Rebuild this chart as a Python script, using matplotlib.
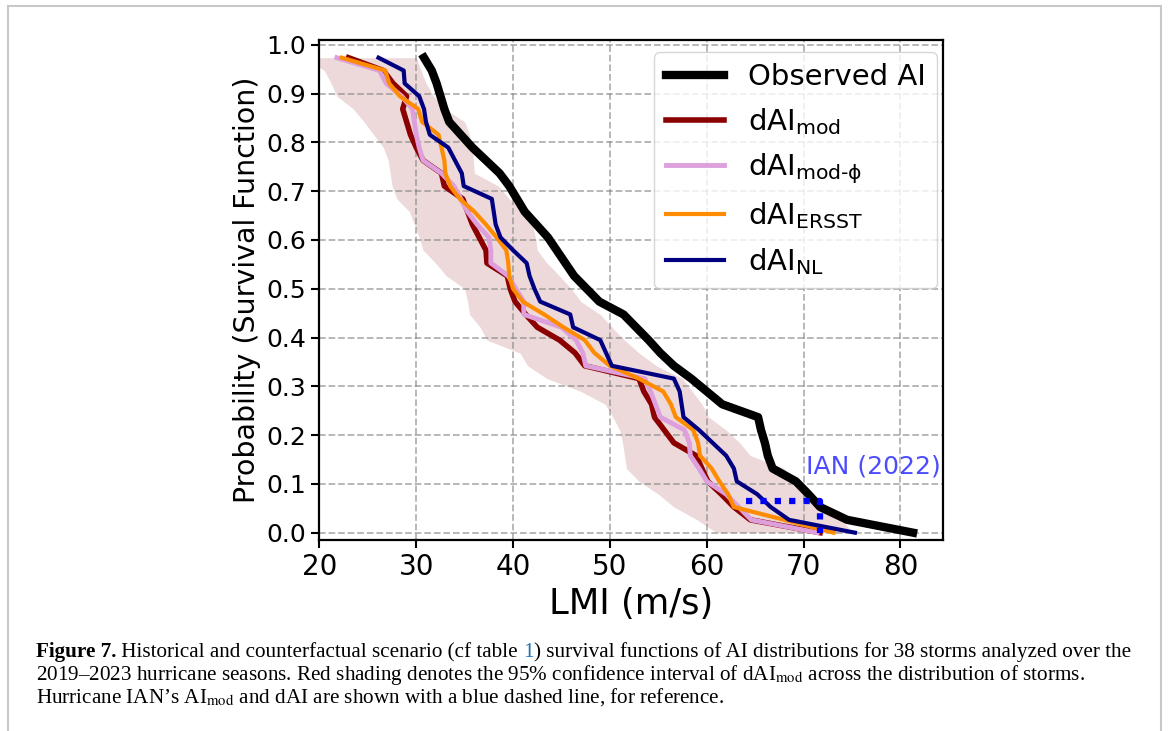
import numpy as np
import matplotlib
matplotlib.use("Agg")
import matplotlib.pyplot as plt
from matplotlib.patches import Rectangle

# 38 tempetes -> probabilites de survie k/38 (de 37/38 a 0)
n_storms = 38
prob = np.arange(n_storms - 1, -1, -1) / n_storms

obs_ai = [30.8, 31.6, 32.1, 32.5, 32.9, 33.4, 34.6, 35.8, 37.2, 38.6,
          39.6, 40.4, 41.2, 42.4, 43.6, 44.5, 45.4, 46.3, 47.6, 48.9,
          51.4, 52.7, 54.0, 55.2, 56.6, 58.4, 60.0, 61.6, 65.3, 65.6,
          66.0, 66.3, 66.8, 69.2, 70.5, 71.7, 74.5, 81.3]
dai_mod = [23.0, 26.6, 27.6, 29.0, 28.6, 29.0, 29.4, 30.0, 30.7, 32.6,
           32.9, 34.8, 35.3, 35.8, 36.5, 37.2, 37.3, 39.4, 39.7, 40.2,
           41.3, 42.5, 44.8, 46.4, 47.4, 53.0, 53.5, 54.3, 54.6, 55.6,
           56.6, 58.9, 59.5, 60.1, 61.5, 62.8, 64.5, 71.7]
dai_mod_phi = [21.8, 26.2, 26.9, 28.5, 29.6, 29.8, 30.0, 30.3, 30.7, 32.6,
               33.9, 34.6, 35.3, 36.3, 37.5, 37.7, 37.7, 39.5, 40.3, 41.1,
               41.1, 45.0, 46.5, 47.2, 47.5, 53.6, 54.2, 54.7, 55.2, 57.7,
               58.2, 58.3, 59.2, 60.0, 62.0, 63.3, 64.6, 71.4]
dai_ersst = [22.3, 26.8, 27.2, 28.3, 30.2, 30.6, 32.3, 32.6, 32.9, 33.0,
             33.5, 34.5, 36.0, 37.2, 38.3, 39.3, 39.5, 39.6, 40.0, 41.0,
             43.2, 45.2, 47.4, 48.4, 50.0, 53.0, 55.5, 56.3, 56.8, 58.6,
             59.1, 59.3, 60.5, 61.3, 62.2, 62.8, 68.0, 73.1]
dai_nl = [26.1, 28.7, 28.8, 30.3, 30.8, 31.0, 31.4, 33.3, 34.0, 34.7,
          34.9, 37.8, 38.0, 38.2, 38.7, 40.0, 41.4, 41.7, 42.2, 42.8,
          45.9, 46.2, 49.0, 49.6, 50.2, 56.6, 57.2, 57.4, 57.6, 59.2,
          60.6, 62.0, 62.8, 63.1, 65.2, 66.6, 68.5, 75.3]

# intervalle de confiance 95% de dAI_mod
ci_low = [18.5, 20.5, 21.2, 21.8, 23.5, 24.6, 25.6, 26.6, 27.1, 27.3,
          27.5, 28.0, 29.3, 29.8, 30.3, 30.7, 32.0, 33.1, 35.0, 35.3,
          35.5, 36.6, 37.3, 40.7, 41.5, 43.5, 47.0, 49.5, 50.3, 51.0,
          51.3, 51.5, 51.7, 53.0, 55.0, 56.6, 59.0, 61.0]
ci_high = [30.0, 30.5, 31.0, 31.8, 33.0, 35.0, 35.5, 35.8, 35.9, 36.0,
           38.5, 39.6, 41.5, 42.0, 42.3, 42.5, 43.5, 44.8, 46.0, 47.0,
           49.0, 50.2, 51.5, 53.0, 54.8, 57.5, 58.5, 59.5, 60.2, 62.0,
           63.4, 64.5, 68.0, 69.0, 70.0, 72.0, 74.0, 75.0]

# Hurricane IAN (2022): dAI et AI_mod
ian_x = [64.1, 71.7, 71.7]
ian_y = [0.065, 0.065, 0.0]

fig = plt.figure(figsize=(11.68, 7.31), dpi=100)
ax = fig.add_axes([0.2735, 0.2613, 0.5339, 0.684])

ax.fill_betweenx(prob, ci_low, ci_high, color='darkred', alpha=0.15, lw=0)
ax.plot(obs_ai, prob, color='black', lw=6, label='Observed AI')
ax.plot(dai_mod, prob, color='darkred', lw=4, label=r'dAI$_{\mathrm{mod}}$')
ax.plot(dai_mod_phi, prob, color='plum', lw=3.5,
        label=r'dAI$_{\mathrm{mod}\text{-}\mathrm{ϕ}}$')
ax.plot(dai_ersst, prob, color='darkorange', lw=3, label=r'dAI$_{\mathrm{ERSST}}$')
ax.plot(dai_nl, prob, color='navy', lw=3, label=r'dAI$_{\mathrm{NL}}$')
ax.plot(ian_x, ian_y, color='blue', lw=4.5, dashes=(1, 1.3))
ax.text(70.2, 0.136, 'IAN (2022)', color='blue', alpha=0.7, fontsize=18,
        va='center', ha='left')

ax.set_xlim(20, 84.4)
ax.set_ylim(-0.015, 1.01)
ax.set_xticks(np.arange(20, 90, 10))
ax.set_yticks(np.arange(0, 1.01, 0.1))
ax.set_yticklabels([f'{v:.1f}' for v in np.arange(0, 1.01, 0.1)])
ax.tick_params(axis='x', labelsize=20, length=6, width=1.5)
ax.tick_params(axis='y', labelsize=18, length=6, width=1.5)
for s in ax.spines.values():
    s.set_linewidth(1.6)
ax.grid(True, linestyle='--', color='gray', alpha=0.6, lw=1.3)
ax.set_xlabel('LMI (m/s)', fontsize=25.5)
ax.set_ylabel('Probability (Survival Function)', fontsize=20.5)
ax.legend(loc='upper right', bbox_to_anchor=(1.0, 0.988), borderaxespad=0.2,
          fontsize=21, handlelength=2.0)

# cadre de la page
fig.patches.append(Rectangle((8 / 1168, -0.05), 1153 / 1168, 1 - 6 / 731 + 0.05,
                             transform=fig.transFigure, fill=False,
                             edgecolor='#c8c8c8', lw=1.5))

# legende de la figure
cap_font = dict(family='Liberation Serif', fontsize=15.2)
t1 = fig.text(36 / 1168, 1 - 657 / 731, 'Figure 7.', fontweight='bold',
              va='baseline', **cap_font)
t2 = ax.annotate(' Historical and counterfactual scenario (cf table ', xy=(1, 0),
                 xycoords=t1, va='bottom', ha='left', annotation_clip=False, **cap_font)
t3 = ax.annotate('1', xy=(1, 0), xycoords=t2, va='bottom', ha='left',
                 color='#1f6fb4', annotation_clip=False, **cap_font)
ax.annotate(') survival functions of AI distributions for 38 storms analyzed over the',
            xy=(1, 0), xycoords=t3, va='bottom', ha='left', annotation_clip=False,
            **cap_font)
fig.text(36 / 1168, 1 - 680 / 731,
         r'2019–2023 hurricane seasons. Red shading denotes the 95% confidence interval '
         r'of dAI$_{\mathrm{mod}}$ across the distribution of storms.',
         va='baseline', math_fontfamily='stix', **cap_font)
fig.text(36 / 1168, 1 - 703 / 731,
         r"Hurricane IAN’s AI$_{\mathrm{mod}}$ and dAI are shown with a blue dashed line, "
         r"for reference.",
         va='baseline', math_fontfamily='stix', **cap_font)

fig.savefig('out.png', dpi=100)
